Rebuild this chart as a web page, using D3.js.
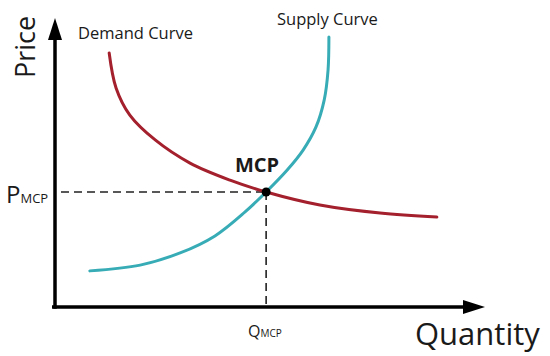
<!DOCTYPE html>
<html>
<head>
<meta charset="utf-8">
<script src="https://cdn.jsdelivr.net/npm/d3@7"></script>
<style>
  html, body { margin: 0; padding: 0; background: #fff; }
  svg { display: block; }
  text { font-family: "Open Sans", "DejaVu Sans", sans-serif; fill: #1a1a1a; }
</style>
</head>
<body>
<svg id="chart" width="550" height="356"></svg>
<script>
// Demand curve (quantity, price) in chart units 0..10
const demandQ = [1.26, 1.42, 1.74, 2.33, 3.14, 4.07, 4.91, 6.16, 7.56, 8.88];
const demandP = [8.79, 7.58, 6.64, 5.78, 4.98, 4.39, 3.98, 3.53, 3.25, 3.11];
// Supply curve
const supplyQ = [0.81, 1.98, 2.91, 3.72, 4.42, 4.91, 5.40, 5.77, 6.07, 6.26, 6.35, 6.37];
const supplyP = [1.25, 1.45, 1.87, 2.46, 3.29, 3.98, 4.74, 5.43, 6.23, 7.16, 8.20, 9.34];
// Market clearing point
const mcpQ = 4.91;
const mcpP = 3.98;
const labels = { x: "Quantity", y: "Price", demand: "Demand Curve", supply: "Supply Curve", mcp: "MCP" };

const svg = d3.select("#chart");
const x = d3.scaleLinear().domain([0, 10]).range([55, 485]);
const y = d3.scaleLinear().domain([0, 10]).range([307, 18]);

const demandColor = "#a3202c";
const supplyColor = "#38acb6";

// dashed guide lines
svg.append("line")
  .attr("x1", x(0) + 6).attr("x2", x(mcpQ))
  .attr("y1", y(mcpP)).attr("y2", y(mcpP))
  .attr("stroke", "#222").attr("stroke-width", 1.6).attr("stroke-dasharray", "8,5");
svg.append("line")
  .attr("x1", x(mcpQ)).attr("x2", x(mcpQ))
  .attr("y1", y(mcpP)).attr("y2", y(0))
  .attr("stroke", "#222").attr("stroke-width", 1.6).attr("stroke-dasharray", "8,5");

const line = d3.line().x(d => x(d[0])).y(d => y(d[1])).curve(d3.curveCatmullRom.alpha(0.5));

svg.append("path")
  .attr("d", line(demandQ.map((q, i) => [q, demandP[i]])))
  .attr("fill", "none").attr("stroke", demandColor).attr("stroke-width", 3).attr("stroke-linecap", "round");
svg.append("path")
  .attr("d", line(supplyQ.map((q, i) => [q, supplyP[i]])))
  .attr("fill", "none").attr("stroke", supplyColor).attr("stroke-width", 3).attr("stroke-linecap", "round");

// axes with arrowheads
const axisW = 3.5, headL = 22, headW = 7;
svg.append("line")
  .attr("x1", x(0) - 3).attr("x2", x(10) - headL + 2)
  .attr("y1", y(0)).attr("y2", y(0))
  .attr("stroke", "#000").attr("stroke-width", axisW);
svg.append("path")
  .attr("d", `M${x(10)},${y(0)} L${x(10) - headL},${y(0) - headW} L${x(10) - headL},${y(0) + headW} Z`)
  .attr("fill", "#000");
svg.append("line")
  .attr("x1", x(0)).attr("x2", x(0))
  .attr("y1", y(0) + 1.75).attr("y2", y(10) + headL - 2)
  .attr("stroke", "#000").attr("stroke-width", axisW);
svg.append("path")
  .attr("d", `M${x(0)},${y(10)} L${x(0) - headW},${y(10) + headL} L${x(0) + headW},${y(10) + headL} Z`)
  .attr("fill", "#000");

// equilibrium dot
svg.append("circle").attr("cx", x(mcpQ)).attr("cy", y(mcpP)).attr("r", 4.5).attr("fill", "#000");

// texts
svg.append("text").attr("x", 415).attr("y", 345).attr("font-size", 31).text(labels.x);
svg.append("text").attr("transform", `translate(35,78) rotate(-90)`).attr("font-size", 27).text(labels.y);
svg.append("text").attr("x", 78).attr("y", 39).attr("font-size", 16.5).text(labels.demand);
svg.append("text").attr("x", 277).attr("y", 25).attr("font-size", 16.5).text(labels.supply);
svg.append("text").attr("x", 235).attr("y", 172).attr("font-size", 20).attr("font-weight", "bold").text(labels.mcp);

const pt = svg.append("text").attr("x", 6).attr("y", 203);
pt.append("tspan").attr("font-size", 24).text("P");
pt.append("tspan").attr("font-size", 13).text("MCP");
const qt = svg.append("text").attr("x", 248).attr("y", 337);
qt.append("tspan").attr("font-size", 16).text("Q");
qt.append("tspan").attr("font-size", 10).text("MCP");
</script>
</body>
</html>
